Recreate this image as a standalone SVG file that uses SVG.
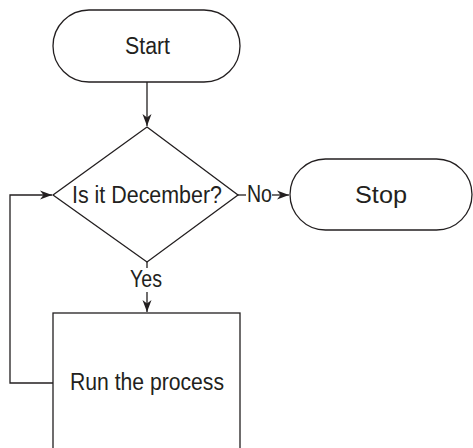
<svg xmlns="http://www.w3.org/2000/svg" width="473" height="448" viewBox="0 0 473 448">
<style>
.s{fill:#fff;stroke:#231f20;stroke-width:1.3}
.c{fill:none;stroke:#231f20;stroke-width:1.3}
text{font-family:"Liberation Sans","DejaVu Sans",sans-serif;font-size:23px;fill:#231f20;text-anchor:middle}
</style>
<defs>
<marker id="ah" markerUnits="userSpaceOnUse" markerWidth="14" markerHeight="12" refX="12" refY="5" orient="auto" viewBox="0 0 14 10">
<path d="M12,5 L0,0.5 L3.5,5 L0,9.5 Z" fill="#231f20"/>
</marker>
</defs>
<rect width="473" height="448" fill="#fff"/>
<g id="connectors">
<line class="c" x1="147" y1="82" x2="147" y2="126" marker-end="url(#ah)"/>
<line class="c" x1="238" y1="195" x2="246" y2="195"/>
<line class="c" x1="272" y1="195" x2="289" y2="195" marker-end="url(#ah)"/>
<line class="c" x1="147" y1="262" x2="147" y2="268"/>
<line class="c" x1="147" y1="292" x2="147" y2="312" marker-end="url(#ah)"/>
<polyline class="c" points="53,383 10,383 10,195 52,195" marker-end="url(#ah)"/>
<text x="259.5" y="202" textLength="25" lengthAdjust="spacingAndGlyphs">No</text>
<text x="146" y="287" textLength="32" lengthAdjust="spacingAndGlyphs">Yes</text>
</g>
<g id="start">
<rect class="s" x="53" y="10" width="187" height="72" rx="36" ry="36"/>
<text x="147.5" y="54" textLength="45" lengthAdjust="spacingAndGlyphs">Start</text>
</g>
<g id="decision">
<polygon class="s" points="147,127 238,195 147,262 53,195"/>
<text x="147" y="203" textLength="150" lengthAdjust="spacingAndGlyphs">Is it December?</text>
</g>
<g id="stop">
<rect class="s" x="290" y="159" width="182" height="71" rx="35.5" ry="35.5"/>
<text x="381" y="203" textLength="52" lengthAdjust="spacingAndGlyphs">Stop</text>
</g>
<g id="process">
<rect class="s" x="53" y="313" width="187" height="150"/>
<text x="147" y="390" textLength="154" lengthAdjust="spacingAndGlyphs">Run the process</text>
</g>
</svg>
